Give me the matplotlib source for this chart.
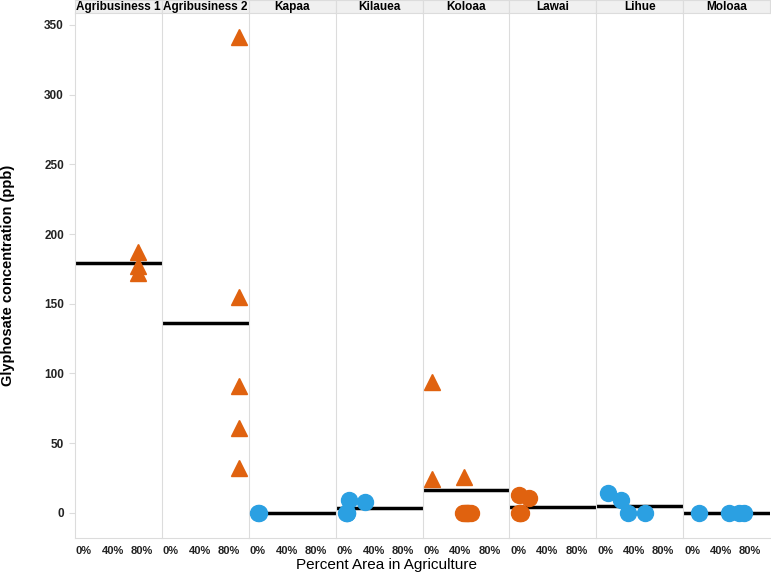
import matplotlib.pyplot as plt
from matplotlib import font_manager

# panels (sites) and the points in each one
sites = ['Agribusiness 1', 'Agribusiness 2', 'Kapaa', 'Kilauea',
         'Koloaa', 'Lawai', 'Lihue', 'Moloaa']

# percent area in agriculture (fraction), glyphosate (ppb), marker kind
pct_ag = [
    [0.75, 0.75, 0.75],
    [0.94, 0.94, 0.94, 0.94, 0.94],
    [0.02, 0.01],
    [0.06, 0.03, 0.28, 0.04, 0.02],
    [0.01, 0.01, 0.45, 0.43, 0.46, 0.48, 0.51, 0.54, 0.50],
    [0.01, 0.15, 0.01, 0.03, 0.02],
    [0.04, 0.22, 0.32, 0.55],
    [0.10, 0.51, 0.65, 0.72],
]
glyphosate = [
    [187, 177, 172],
    [341, 155, 91, 61, 32],
    [0, 0],
    [9, 0, 8, 0, 0],
    [94, 24, 26, 0, 0, 0, 0, 0, 0],
    [13, 11, 0, 0, 0],
    [14, 9, 0, 0],
    [0, 0, 0, 0],
]
kind = [
    ['tri'] * 3,
    ['tri'] * 5,
    ['blue'] * 2,
    ['blue'] * 5,
    ['tri'] * 3 + ['orange'] * 6,
    ['orange'] * 5,
    ['blue'] * 4,
    ['blue'] * 4,
]
# mean level drawn as a black line in each panel
site_mean = [179, 136, 0, 3.5, 16.5, 4.5, 5, 0]

yticks = [0, 50, 100, 150, 200, 250, 300, 350]
xticks = [0, 0.4, 0.8]
xticklabels = ['0%', '40%', '80%']

orange = '#E0620F'
blue = '#2BA0E2'
grid_c = '#DCDCDC'

names = {f.name for f in font_manager.fontManager.ttflist}
narrow = 'Liberation Sans Narrow' if 'Liberation Sans Narrow' in names else 'Liberation Sans'
plt.rcParams['font.family'] = ['Liberation Sans', 'DejaVu Sans']

fig = plt.figure(figsize=(7.71, 5.75), dpi=100)
W, H = 771.0, 575.0
left_px, right_px = 75.0, 770.0
top_px, bot_px, head_px = 13.0, 538.0, 13.0
pw = (right_px - left_px) / len(sites)

for i, site in enumerate(sites):
    x0 = left_px + i * pw
    ax = fig.add_axes([x0 / W, 1 - bot_px / H, pw / W, (bot_px - top_px) / H])
    ax.set_xlim(-0.124, 1.076)
    ax.set_ylim(-18, 358.5)
    ax.axhline(site_mean[i], color='black', lw=2.5, zorder=2)
    for x, y, k in zip(pct_ag[i], glyphosate[i], kind[i]):
        if k == 'tri':
            ax.plot(x, y, marker='^', ms=11, color=orange, mec=orange, zorder=3)
        else:
            c = orange if k == 'orange' else blue
            ax.plot(x, y, marker='o', ms=11.5, color=c, mec=c, zorder=3)
    ax.set_xticks(xticks)
    ax.set_xticklabels(xticklabels, fontsize=8, fontweight='bold', color='#222222',
                       family=narrow)
    ax.tick_params(axis='x', length=0, pad=6)
    ax.set_yticks(yticks)
    if i == 0:
        ax.set_yticklabels([str(t) for t in yticks], fontsize=8.5, fontweight='bold',
                           color='#222222', family=narrow)
        ax.tick_params(axis='y', length=4, color=grid_c, pad=4)
    else:
        ax.tick_params(axis='y', length=0, labelleft=False)
    for s in ['top', 'right']:
        ax.spines[s].set_visible(False)
    ax.spines['left'].set_color(grid_c)
    ax.spines['bottom'].set_color(grid_c)
    # header strip
    hx = fig.add_axes([x0 / W, 1 - top_px / H, pw / W, head_px / H])
    hx.set_facecolor('#F0F0F0')
    hx.set_xticks([])
    hx.set_yticks([])
    for s in hx.spines.values():
        s.set_color(grid_c)
    hx.text(0.5, 0.45, site, ha='center', va='center', fontsize=8.5,
            fontweight='bold', family=narrow, transform=hx.transAxes)

fig.text(8 / W, 1 - 275 / H, 'Glyphosate concentration (ppb)', rotation=90,
         ha='center', va='center', fontsize=10.5, fontweight='bold')
fig.text(387 / W, 1 - 565 / H, 'Percent Area in Agriculture', ha='center',
         va='center', fontsize=11)

plt.savefig('out.png', dpi=100)
